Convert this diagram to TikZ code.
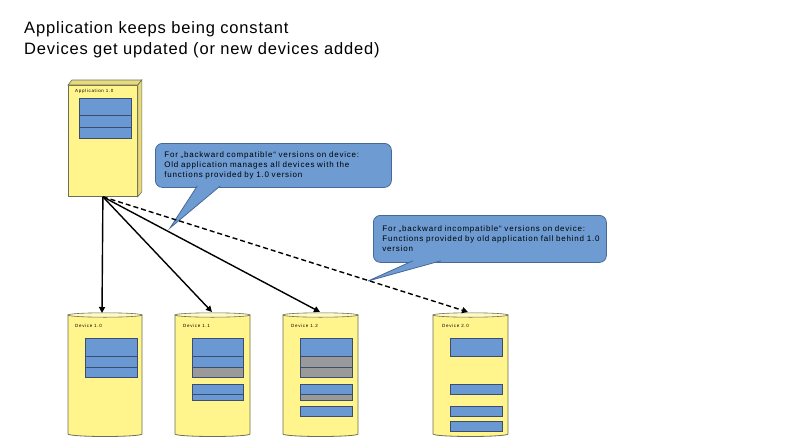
\documentclass[tikz,border=0pt]{standalone}
\usepackage{fontspec}
\setmainfont{Liberation Sans}
\usepackage{xcolor}
\usetikzlibrary{positioning, arrows.meta}

\definecolor{devyellow}{HTML}{FFF58C}
\definecolor{devlight}{HTML}{FFF9C8}
\definecolor{devbevel}{HTML}{E6DA7E}
\definecolor{devline}{HTML}{6E6E52}
\definecolor{blkblue}{HTML}{6A98D2}
\definecolor{blkgray}{HTML}{9A9A9A}
\definecolor{blkline}{HTML}{3C4E6E}
\definecolor{notefill}{HTML}{6E9CD2}
\definecolor{noteline}{HTML}{46699A}

\tikzset{
  devbody/.style={fill=devyellow, draw=devline, line width=0.8pt},
  devtop/.style={fill=devlight, draw=devline, line width=0.6pt},
  bevel/.style={fill=devbevel, draw=devline, line width=0.6pt},
  blk/.style={fill=blkblue, draw=blkline, line width=0.8pt},
  gblk/.style={fill=blkgray, draw=blkline, line width=0.8pt},
  note/.style={fill=notefill, draw=noteline, line width=0.8pt, rounded corners=7pt,
    align=left, font=\fontsize{8}{10}\selectfont\addfontfeatures{LetterSpace=10},
    anchor=north west, inner xsep=9pt},
  tail/.style={fill=notefill, draw=noteline, line width=0.8pt},
  tiny/.style={font=\fontsize{4.5}{5}\selectfont\addfontfeatures{LetterSpace=15},
    inner sep=0, anchor=west},
  heading/.style={font=\fontsize{16.5}{19}\selectfont\addfontfeatures{LetterSpace=5},
    inner sep=0, anchor=base west},
  link/.style={-{Triangle[length=6pt,width=6pt]}, line width=1.4pt},
}

\begin{document}
\begin{tikzpicture}[x=1pt, y=-1pt]
    \useasboundingbox (0,0) rectangle (794,447);

    % Heading
    \node[heading] (title1) at (24,33) {Application keeps being constant};
    \node[heading] (title2) at (24,54) {Devices get updated (or new devices added)};

    % Application box
    \node[devbody, minimum width=69, minimum height=111, anchor=north west, inner sep=0] (app) at (68,85) {};
    \filldraw[bevel] (app.north west) -- ([shift={(4,-5)}]app.north west)
        -- ([shift={(4,-5)}]app.north east) -- (app.north east) -- cycle;
    \filldraw[bevel] (app.north east) -- ([shift={(4,-5)}]app.north east)
        -- ([shift={(4,-5)}]app.south east) -- (app.south east) -- cycle;
    \node[tiny] (applab) at (75,91) {Application 1.0};
    \draw[blk] (79,98) rectangle (131,115);
    \draw[blk] (79,115) rectangle (131,127);
    \draw[blk] (79,127) rectangle (131,138);

    % Device 1.0
    \filldraw[devbody] (68,315) -- (68,434) arc[start angle=180, end angle=360, x radius=37pt, y radius=2.5pt] -- (142,315) -- cycle;
    \filldraw[devtop] (105,315) ellipse[x radius=37pt, y radius=2.2pt];
    \node[tiny] (lab10) at (75,326) {Device 1.0};
    \draw[blk] (85,338) rectangle (137,356);
    \draw[blk] (85,356) rectangle (137,367);
    \draw[blk] (85,367) rectangle (137,377);
    \coordinate (dev10) at (102,313);

    % Device 1.1
    \filldraw[devbody] (175,315) -- (175,434) arc[start angle=180, end angle=360, x radius=37.5pt, y radius=2.5pt] -- (250,315) -- cycle;
    \filldraw[devtop] (212.5,315) ellipse[x radius=37.5pt, y radius=2.2pt];
    \node[tiny] (lab11) at (183,326) {Device 1.1};
    \draw[blk] (192,338) rectangle (243,356);
    \draw[blk] (192,356) rectangle (243,367);
    \draw[gblk] (192,367) rectangle (243,377);
    \draw[blk] (192,384) rectangle (243,394);
    \draw[blk] (192,394) rectangle (243,400);
    \coordinate (dev11) at (212,312);

    % Device 1.2
    \filldraw[devbody] (283,315) -- (283,434) arc[start angle=180, end angle=360, x radius=37.5pt, y radius=2.5pt] -- (358,315) -- cycle;
    \filldraw[devtop] (320.5,315) ellipse[x radius=37.5pt, y radius=2.2pt];
    \node[tiny] (lab12) at (291,326) {Device 1.2};
    \draw[blk] (300,338) rectangle (352,356);
    \draw[gblk] (300,356) rectangle (352,367);
    \draw[gblk] (300,367) rectangle (352,377);
    \draw[blk] (300,384) rectangle (352,394);
    \draw[gblk] (300,394) rectangle (352,400);
    \draw[blk] (300,406) rectangle (352,416);
    \coordinate (dev12) at (320,312);

    % Device 2.0
    \filldraw[devbody] (433,315) -- (433,434) arc[start angle=180, end angle=360, x radius=37.5pt, y radius=2.5pt] -- (508,315) -- cycle;
    \filldraw[devtop] (470.5,315) ellipse[x radius=37.5pt, y radius=2.2pt];
    \node[tiny] (lab20) at (442,326) {Device 2.0};
    \draw[blk] (450,338) rectangle (502,356);
    \draw[blk] (450,384) rectangle (502,394);
    \draw[blk] (450,406) rectangle (502,416);
    \draw[blk] (450,421) rectangle (502,431);
    \coordinate (dev20) at (468,312);

    % Callouts
    \node[note, minimum width=236, minimum height=44, text width=218] (note1) at (155,143)
        {For „backward compatible“ versions on device:\\
         Old application manages all devices with the\\
         functions provided by 1.0 version};
    \coordinate (tip1) at (170,228);
    \filldraw[tail] ([shift={(-76,-2)}]note1.south) -- (tip1) -- ([shift={(-53,-2)}]note1.south);

    \node[note, minimum width=233, minimum height=47, text width=215] (note2) at (373,215)
        {For „backward incompatible“ versions on device:\\
         \mbox{Functions provided by old application fall behind 1.0}\\
         version};
    \coordinate (tip2) at (368,281);
    \filldraw[tail] ([shift={(-77,-2)}]note2.south) -- (tip2) -- ([shift={(-49,-2)}]note2.south);

    % Links from application to devices
    \draw[link] (app.south) -- (dev10);
    \draw[link] (app.south) -- (dev11);
    \draw[link] (app.south) -- (dev12);
    \draw[link, dash pattern=on 5pt off 3pt] (app.south) -- (dev20);

\end{tikzpicture}
\end{document}
